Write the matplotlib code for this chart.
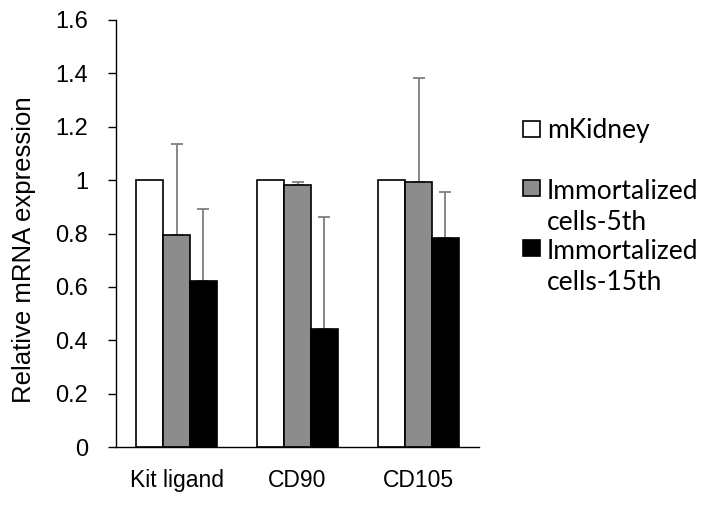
import matplotlib.pyplot as plt
from matplotlib.patches import Rectangle
import numpy as np

# Relative mRNA expression
genes = ['Kit ligand', 'CD90', 'CD105']
series = ['mKidney', 'Immortalized\ncells-5th', 'Immortalized\ncells-15th']
mkidney = [1.0, 1.0, 1.0]
cells_5th = [0.793, 0.980, 0.993]
cells_15th = [0.621, 0.444, 0.785]
# upper error only (SD)
err_5th = [0.341, 0.012, 0.389]
err_15th = [0.270, 0.417, 0.171]

colors = ['white', '#8c8c8c', 'black']
tick_font = 'Liberation Sans'
legend_font = 'Lato'
W, H = 702, 508

fig = plt.figure(figsize=(W / 100, H / 100), dpi=100)
ax = fig.add_axes([116 / W, 1 - 447 / H, 363 / W, 427 / H])

x = np.arange(len(genes))
w = 0.223
values = [mkidney, cells_5th, cells_15th]
errors = [None, err_5th, err_15th]
for i, (vals, err, c) in enumerate(zip(values, errors, colors)):
    pos = x + (i - 1) * w
    ax.bar(pos, vals, w, color=c, edgecolor='black', linewidth=1.2, zorder=2)
    if err is not None:
        ax.errorbar(pos, vals, yerr=[np.zeros(len(err)), err], fmt='none',
                    ecolor='#7f7f7f', elinewidth=1.3, capsize=4.5,
                    capthick=1.3, zorder=1)

ax.set_xlim(-0.5, 2.5)
ax.set_ylim(0, 1.6)
ax.set_yticks(np.arange(0, 1.61, 0.2))
ax.set_yticklabels(['0', '0.2', '0.4', '0.6', '0.8', '1', '1.2', '1.4', '1.6'],
                   fontsize=17, family=tick_font)
ax.set_xticks(x)
ax.set_xticklabels(genes, fontsize=16.5, family=tick_font)
ax.tick_params(axis='x', length=0, pad=16)
ax.tick_params(axis='y', length=6, width=1, pad=14, direction='out')
ax.spines['top'].set_visible(False)
ax.spines['right'].set_visible(False)
ax.spines['left'].set_linewidth(1)
ax.spines['bottom'].set_linewidth(1)

fig.text(24 / W, 1 - 250 / H, 'Relative mRNA expression', rotation=90,
         ha='center', va='center', fontsize=18.5, family=tick_font)

# legend drawn by hand: square + one text per label line
box_mid = [129, 188, 248]
first_base = [138, 199, 259]
line_gap = 31
for lbl, c, ym, yb in zip(series, colors, box_mid, first_base):
    fig.patches.append(Rectangle((523 / W, 1 - (ym + 8) / H), 17 / W, 16 / H,
                                 transform=fig.transFigure, facecolor=c,
                                 edgecolor='black', linewidth=1.2))
    for k, line in enumerate(lbl.split('\n')):
        fig.text(547 / W, 1 - (yb + k * line_gap) / H, line, ha='left',
                 va='baseline', fontsize=19, family=legend_font)

fig.savefig('out.png', dpi=100)
